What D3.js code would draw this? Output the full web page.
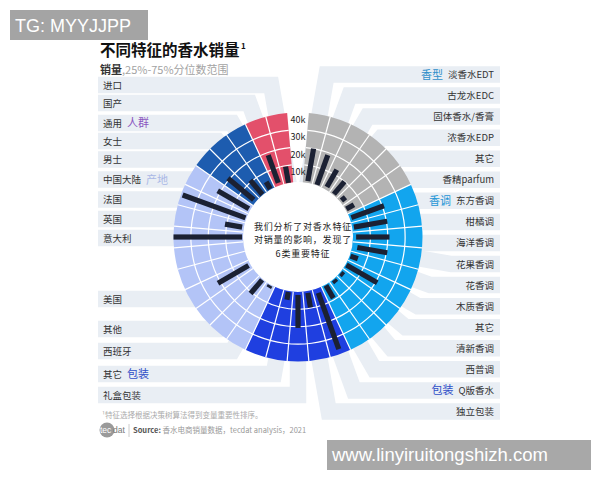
<!DOCTYPE html>
<html><head><meta charset="utf-8">
<script src="https://cdn.jsdelivr.net/npm/d3@7"></script>
<style>
body{margin:0;background:#fff}
svg{display:block;font-family:"Noto Sans CJK SC","Noto Sans",sans-serif}
</style>
</head><body>
<svg id="c" width="600" height="480"></svg>
<script>
// ---------------- data ----------------
const groupNames = ["香型","香调","包装","产地","人群",""];
const groupColors = ["#b3b3b3","#12a5ee","#1f3fe0","#b3c4f7","#1d5caf","#e3506b"];
const groupLabelColors = ["#2f8fca","#2596d6","#2f4fc8","#aab8e6","#8a55c0","#e3506b"];
const categories = [
  "淡香水EDT","古龙水EDC","固体香水/香膏","浓香水EDP","其它","香精parfum",
  "东方香调","柑橘调","海洋香调","花果香调","花香调","木质香调","其它","清新香调","西普调",
  "Q版香水","独立包装","礼盒包装","其它","",
  "西班牙","其他","","美国","","","意大利","英国","法国","中国大陆",
  "男士","女士","通用",
  "国产","进口"
];
const categoryGroup = [
  0,0,0,0,0,0,
  1,1,1,1,1,1,1,1,1,
  2,2,2,2,2,
  3,3,3,3,3,3,3,3,3,3,
  4,4,4,
  5,5
];
const q25 = [
  1000,300,1600,500,1000,500,
  1000,1000,1800,3000,500,500,500,500,500,
  2500,1000,1700,500,null,
  500,500,null,1200,null,null,500,1000,500,1000,
  1600,300,300,
  1500,0
];
const q75 = [
  20000,18500,13000,10000,4000,5500,
  21000,20500,21000,20500,5000,21000,2500,2500,9000,
  37000,9500,20700,5000,null,
  2000,10800,null,21500,null,null,40000,11000,39000,21700,
  21000,11000,5000,
  18500,9500
];
const tickValues = [10000,20000,30000,40000];
const tickLabels = ["10k","20k","30k","40k"];
const centerLines = ["我们分析了对香水特征","对销量的影响，发现了","6类重要特征"];

// ---------------- layout ----------------
const cx = 298, cy = 237, R0 = 55, R1 = 124.5;
const gapDeg = 10;
const leftRowY = [85,103,123,141,159.5,179.5,199.5,219,238,299,329,351,374,395]; // top-to-bottom
const rightTop = 74.5, rightStep = 21.06;
const bandColor = "#e9eef4";

const svg = d3.select("#c");
const n = categories.length;
const toRad = d => d * Math.PI / 180;

const angle = d3.scaleBand().domain(d3.range(n))
  .range([toRad(gapDeg/2), toRad(360 - gapDeg/2)]).paddingInner(0).paddingOuter(0);
const rad = d3.scaleLinear().domain([0, 40000]).range([R0, R1]);
const mid = i => angle(i) + angle.bandwidth()/2;
const midDeg = i => mid(i) * 180 / Math.PI;
const onRight = i => midDeg(i) < 179.5;

// ---------- watermark top-left ----------
svg.append("rect").attr("x",10).attr("y",10).attr("width",138).attr("height",30).attr("fill","#a4a4a4");
svg.append("text").attr("x",15).attr("y",32).attr("fill","#fff")
  .style("font-family","'Liberation Sans',Arial,sans-serif").style("font-size","18px").text("TG: MYYJJPP");

// ---------- title ----------
svg.append("text").attr("x",100).attr("y",56).attr("fill","#111")
  .style("font-size","15.5px").style("font-weight","bold").text("不同特征的香水销量");
svg.append("text").attr("x",241).attr("y",49).attr("fill","#111")
  .style("font-size","8px").style("font-weight","bold").text("1");
const sub = svg.append("text").attr("x",100).attr("y",73.5).style("font-size","11px");
sub.append("tspan").attr("fill","#333").style("font-weight","bold").text("销量");
sub.append("tspan").attr("fill","#a3a3a3").text(",25%-75%分位数范围");

// ---------- label assignment ----------
const labeled = d3.range(n).filter(i => categories[i] !== "");
const rightIdx = labeled.filter(i => onRight(i));
const leftIdx = labeled.filter(i => !onRight(i)).reverse(); // top-to-bottom
const rowY = {};
rightIdx.forEach((i,k) => rowY[i] = rightTop + k*rightStep);
leftIdx.forEach((i,k) => rowY[i] = leftRowY[k]);

// ---------- bands ----------
const bands = svg.append("g");
labeled.forEach(i => {
  const th = mid(i), ly = rowY[i];
  const isRight = onRight(i);
  const endX = isRight ? 500 : 98;
  const dyv = ly - cy;
  const c = Math.cos(th), s = Math.sin(th);
  let ex;
  const d = Math.abs(c) > 1e-3 ? (cy - ly) / c : Infinity;
  if (d > R1 && d < 400) {
    ex = cx + d * s;
  } else {
    const rr = R1 - 3;
    const h = Math.sqrt(Math.max(0, rr*rr - dyv*dyv));
    ex = cx + (isRight ? h : -h);
  }
  const p = d3.path();
  p.moveTo(cx, cy); p.lineTo(ex, ly); p.lineTo(endX, ly);
  bands.append("path").attr("d", p.toString()).attr("fill","none")
    .attr("stroke", bandColor).attr("stroke-width", 16.5)
    .attr("stroke-linejoin","miter").attr("stroke-miterlimit",3);
});

// ---------- ring ----------
const ring = svg.append("g").attr("transform",`translate(${cx},${cy})`);
ring.append("circle").attr("r", R0).attr("fill","#fff");
const arc = d3.arc().innerRadius(R0).outerRadius(R1);
groupNames.forEach((g, gi) => {
  const idx = d3.range(n).filter(i => categoryGroup[i] === gi);
  ring.append("path").attr("d", arc({startAngle: angle(idx[0]), endAngle: angle(idx[idx.length-1]) + angle.bandwidth()}))
    .attr("fill", groupColors[gi]);
});
// circular grid
tickValues.slice(0,3).forEach(v => {
  const a = d3.arc().innerRadius(rad(v)-0.6).outerRadius(rad(v)+0.6)
    .startAngle(angle(0)).endAngle(angle(n-1)+angle.bandwidth());
  ring.append("path").attr("d", a()).attr("fill","#fff");
});
// radial grid
d3.range(1, n).forEach(i => {
  const a = angle(i);
  ring.append("line")
    .attr("x1", R0*Math.sin(a)).attr("y1", -R0*Math.cos(a))
    .attr("x2", R1*Math.sin(a)).attr("y2", -R1*Math.cos(a))
    .attr("stroke","#fff").attr("stroke-width",1.2);
});
// bars
d3.range(n).filter(i => q75[i] != null).forEach(i => {
  ring.append("rect")
    .attr("transform", `rotate(${midDeg(i)})`)
    .attr("x", -2.6).attr("width", 5.2)
    .attr("y", -rad(q75[i])).attr("height", rad(q75[i]) - rad(q25[i]))
    .attr("fill","#1b2133");
});
// tick labels
tickValues.forEach((v,k) => {
  ring.append("text").attr("x", 0).attr("y", -rad(v) + 10.5)
    .attr("text-anchor","middle").attr("fill","#222")
    .style("font-size","9px").text(tickLabels[k]);
});
// center text
centerLines.forEach((t,k) => {
  svg.append("text").attr("x", 303).attr("y", 230 + k*13.3)
    .attr("text-anchor","middle").attr("fill","#222")
    .style("font-size","9px").style("letter-spacing","0.8px").text(t);
});

// ---------- labels ----------
const lab = svg.append("g");
rightIdx.forEach(i => {
  const t = lab.append("text").attr("x", 494).attr("y", rowY[i] + 3.5)
    .attr("text-anchor","end").attr("fill","#333").style("font-size","9.5px").text(categories[i]);
  const gi = categoryGroup[i];
  const first = rightIdx.filter(j => categoryGroup[j] === gi)[0];
  if (first === i && groupNames[gi]) {
    const w = t.node().getComputedTextLength();
    lab.append("text").attr("x", 494 - w - 5).attr("y", rowY[i] + 4)
      .attr("text-anchor","end").attr("fill", groupLabelColors[gi])
      .style("font-size","11px").text(groupNames[gi]);
  }
});
leftIdx.forEach(i => {
  const t = lab.append("text").attr("x", 103).attr("y", rowY[i] + 3.5)
    .attr("fill","#333").style("font-size","9.5px").text(categories[i]);
  const gi = categoryGroup[i];
  const top = leftIdx.filter(j => categoryGroup[j] === gi)[0];
  if (top === i && groupNames[gi]) {
    const w = t.node().getComputedTextLength();
    lab.append("text").attr("x", 103 + w + 5).attr("y", rowY[i] + 4)
      .attr("fill", groupLabelColors[gi]).style("font-size","11px").text(groupNames[gi]);
  }
});

// ---------- footnote & source ----------
svg.append("text").attr("x",102).attr("y",418).attr("fill","#aaa").style("font-size","7.5px")
  .text("¹特征选择根据决策树算法得到变量重要性排序。");
svg.append("circle").attr("cx",107).attr("cy",430).attr("r",7.5).attr("fill","#9a9a9a");
svg.append("text").attr("x",100).attr("y",433).attr("fill","#fff")
  .style("font-family","'Liberation Sans',Arial,sans-serif").style("font-size","8.5px").text("tec");
svg.append("text").attr("x",113).attr("y",433).attr("fill","#777")
  .style("font-family","'Liberation Sans',Arial,sans-serif").style("font-size","8.5px").text("dat");
svg.append("line").attr("x1",129).attr("x2",129).attr("y1",424).attr("y2",437).attr("stroke","#ccc");
const src = svg.append("text").attr("x",133).attr("y",433).style("font-size","7.5px");
src.append("tspan").attr("fill","#555").style("font-weight","bold").text("Source: ");
src.append("tspan").attr("fill","#999").text("香水电商销量数据，tecdat analysis，2021");

// ---------- watermark bottom-right ----------
svg.append("rect").attr("x",327).attr("y",440).attr("width",264).attr("height",30).attr("fill","#a8a8a8");
svg.append("text").attr("x",332).attr("y",461).attr("fill","#fff")
  .style("font-family","'Liberation Sans',Arial,sans-serif").style("font-size","18.5px").text("www.linyiruitongshizh.com");
</script>
</body></html>
